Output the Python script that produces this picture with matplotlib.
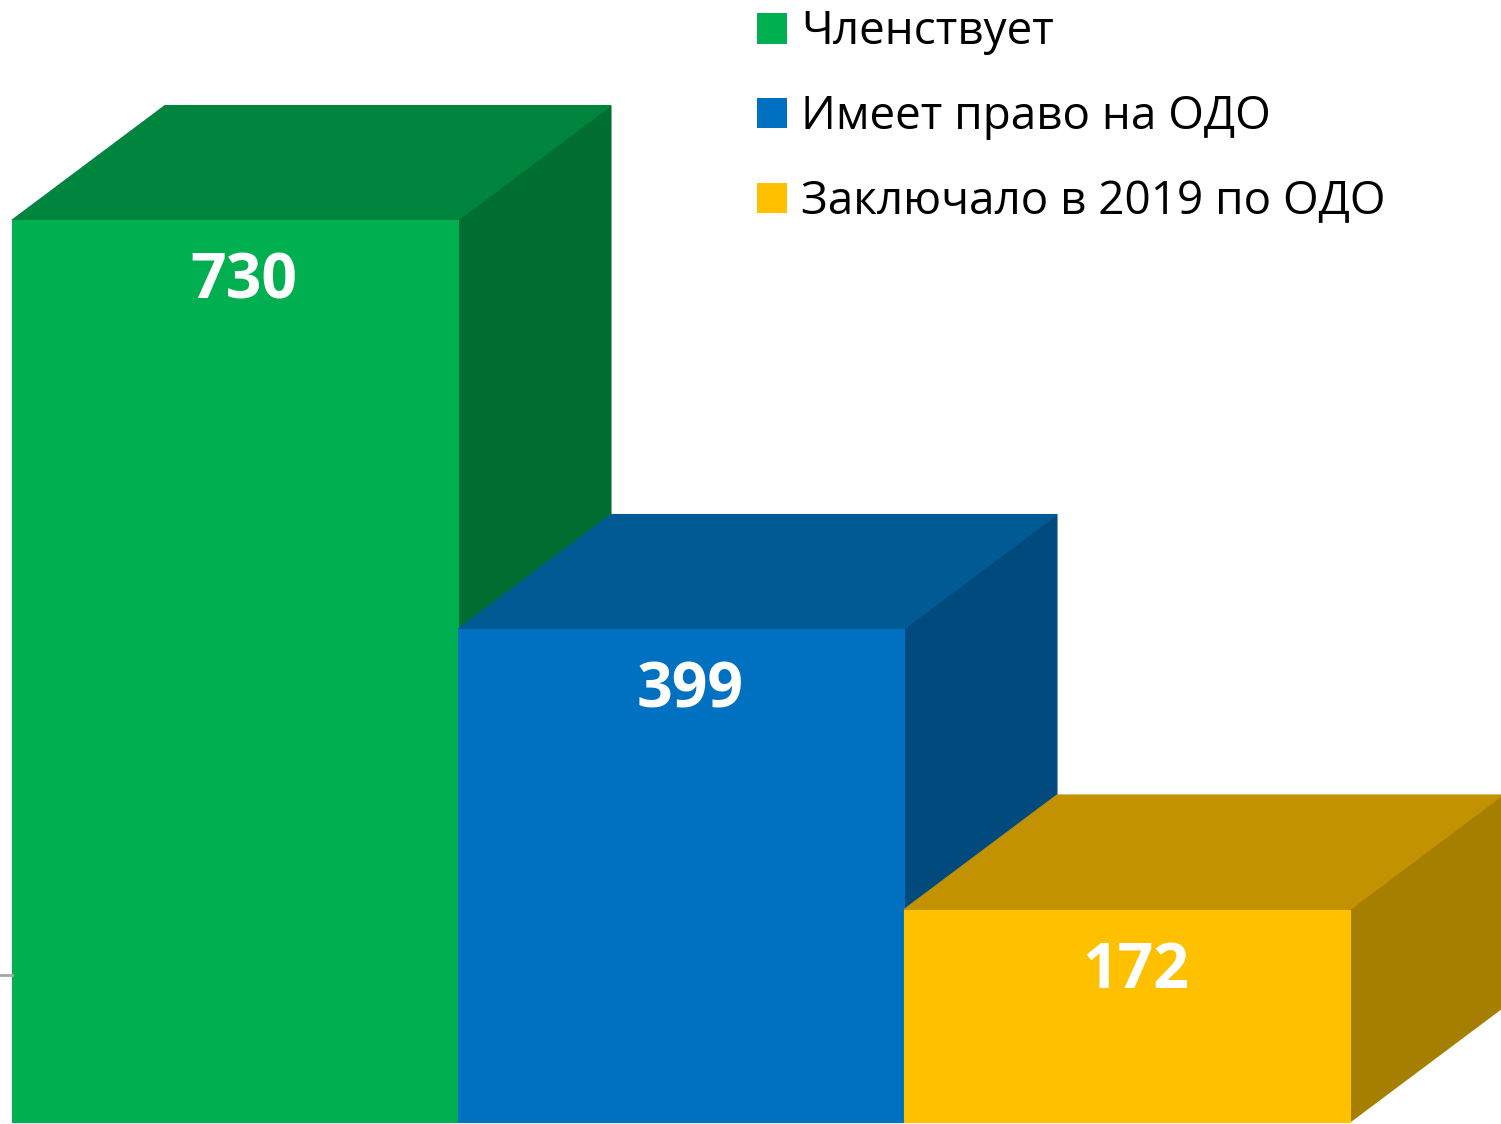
import matplotlib.pyplot as plt
from matplotlib.patches import Polygon, Patch

# Data
labels = ['Членствует', 'Имеет право на ОДО', 'Заключало в 2019 по ОДО']
values = [730, 399, 172]

# front / top / side shades for each bar
front_colors = ['#00B050', '#0070C0', '#FFC000']
top_colors = ['#00853E', '#005A94', '#C39200']
side_colors = ['#006E30', '#004A7E', '#A67E00']

plt.rcParams['font.family'] = ['Open Sans', 'DejaVu Sans']

fig = plt.figure(figsize=(15.01, 11.24), dpi=100)
ax = fig.add_axes([0, 0, 1, 1])

# pseudo 3D depth offset in data units
dx, dy = 0.343, 92.7
width = 1.0

for i, v in enumerate(values):
    x0, x1 = i, i + width
    side = Polygon([(x1, 0), (x1 + dx, dy), (x1 + dx, v + dy), (x1, v)],
                   closed=True, facecolor=side_colors[i],
                   edgecolor=side_colors[i], linewidth=0.8)
    top = Polygon([(x0, v), (x1, v), (x1 + dx, v + dy), (x0 + dx, v + dy)],
                  closed=True, facecolor=top_colors[i],
                  edgecolor=top_colors[i], linewidth=0.8)
    ax.add_patch(side)
    ax.add_patch(top)
    ax.bar(x0, v, width=width, align='edge', color=front_colors[i],
           edgecolor=front_colors[i], linewidth=0.8)
    ax.text(x0 + width / 2 + 0.02, v - 50, str(v), ha='center', va='center',
            color='white', fontsize=45, fontweight='bold')

# little bit of the floor line left of the first bar
ax.plot([-0.05, 0], [119, 119], color='#A6A6A6', linewidth=2)

ax.set_xlim(-12 / 446, 1489 / 446)
ax.set_ylim(-1.6, 908.1)
ax.axis('off')

handles = [Patch(facecolor=c, edgecolor='none') for c in front_colors]
ax.legend(handles, labels, loc='upper left', bbox_to_anchor=(0.4923, 1.008),
          frameon=False, fontsize=33, handlelength=0.65, handleheight=0.65,
          handletextpad=0.3, labelspacing=0.85, borderaxespad=0)

plt.savefig('out.png', dpi=100)
plt.close()
